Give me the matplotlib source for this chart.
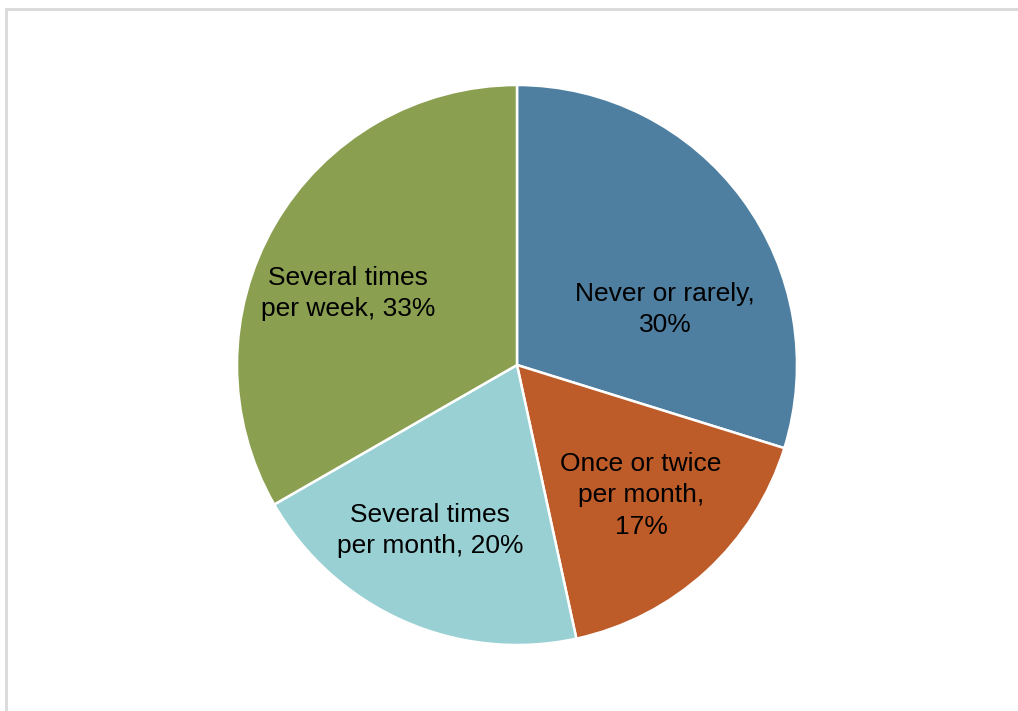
import matplotlib.pyplot as plt
from matplotlib.patches import Rectangle

plt.rcParams['font.family'] = ['Liberation Sans', 'DejaVu Sans']

# 各カテゴリの割合（スライス角度から読み取り）
categories = ['Never or rarely,', 'Once or twice\nper month,', 'Several times\nper month,', 'Several times\nper week,']
values = [29.8, 16.8, 20.1, 33.3]
colors = ['#4f7fa0', '#bd5b29', '#98d0d4', '#8a9f50']
# ラベル位置（半径単位）
label_pos = [(0.529, 0.198), (0.443, -0.466), (-0.311, -0.59), (-0.604, 0.256)]
label_sep = ['\n', '\n', ' ', ' ']

W, H = 1018, 711
fig = plt.figure(figsize=(W / 100, H / 100), dpi=100)

cx, cy, r = 517, 365, 280
ax = fig.add_axes([(cx - r) / W, (H - cy - r) / H, 2 * r / W, 2 * r / H])
ax.pie(values, colors=colors, startangle=90, counterclock=False,
       wedgeprops=dict(edgecolor='white', linewidth=1.8))
ax.set_xlim(-1, 1)
ax.set_ylim(-1, 1)
ax.set_aspect('equal')
ax.axis('off')

for c, v, sep, (x, y) in zip(categories, values, label_sep, label_pos):
    t = f'{c}{sep}{round(v):.0f}%'
    ax.text(x, y, t, ha='center', va='center', fontsize=19, color='black', linespacing=1.38)

# 外枠
fig.patches.append(Rectangle((6 / W, 0 - 0.01), 1.05, (H - 9) / H + 0.01, transform=fig.transFigure,
                             fill=False, edgecolor='#d9d9d9', linewidth=2))

fig.savefig('out.png', dpi=100)
